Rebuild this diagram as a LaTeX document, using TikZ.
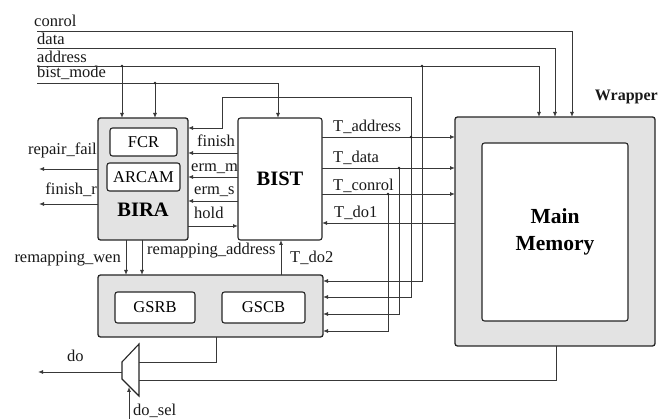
\documentclass[tikz,border=0pt]{standalone}
\usepackage{fontspec}
\setmainfont{Liberation Serif}
\usetikzlibrary{arrows.meta,calc}
\begin{document}
\begin{tikzpicture}[x=1pt,y=-1pt,
  wire/.style={draw=black!78, line width=0.9pt},
  arr/.style={wire, -{Latex[length=5pt,width=4pt]}},
  lbl/.style={font=\rmfamily\fontsize{16.5}{18}\selectfont, inner sep=0pt, text=black!90},
  bigb/.style={font=\rmfamily\bfseries\fontsize{20.5}{22}\selectfont},
  outerbox/.style={draw=black!85, line width=1.3pt, fill=black!11, rounded corners=2.5pt, inner sep=0pt, outer sep=0pt},
  innerbox/.style={draw=black!85, line width=1.1pt, fill=white, rounded corners=2.5pt, inner sep=0pt, outer sep=0pt, font=\rmfamily\fontsize{16.5}{18}\selectfont},
  jdot/.style={circle, fill=black!85, inner sep=0pt, minimum size=2.6pt}
]
\useasboundingbox[fill=white] (0,0) rectangle (670,419);

% ---------- blocks ----------
\node[outerbox, minimum width=90pt, minimum height=122pt] (bira) at (143,179) {};
\node[innerbox, minimum width=67pt, minimum height=28pt] (fcr) at (143.5,142) {FCR};
\node[innerbox, minimum width=73pt, minimum height=28pt] (arcam) at (143.5,177) {ARCAM};
\node[bigb, inner sep=0pt] (biralbl) at (143,210) {BIRA};
\node[innerbox, bigb, minimum width=84pt, minimum height=122pt] (bist) at (280,179) {BIST};

\node[outerbox, minimum width=225pt, minimum height=62pt] (gs) at (210.5,306) {};
\node[innerbox, minimum width=80pt, minimum height=31pt] (gsrb) at (155,307.5) {GSRB};
\node[innerbox, minimum width=83pt, minimum height=31pt] (gscb) at (263.5,307.5) {GSCB};

\node[outerbox, minimum width=200pt, minimum height=229pt] (wrap) at (555,231.5) {};
\node[innerbox, font=\rmfamily\bfseries\fontsize{21.5}{26.5}\selectfont, align=center, minimum width=146pt, minimum height=178pt] (mem) at (555,232) {Main\\Memory};
\node[lbl, font=\rmfamily\bfseries\fontsize{16}{18}\selectfont, anchor=base east] (wlbl) at (658,101) {Wrapper};

% mux
\coordinate (muxa) at (139,344);
\coordinate (muxb) at (139,396);
\coordinate (muxc) at (122,379);
\coordinate (muxd) at (122,362);
\draw[draw=black!85, line width=1.1pt] (muxa) -- (muxb) -- (muxc) -- (muxd) -- cycle;

% ---------- top bus ----------
\node[lbl, anchor=base west] (lconrol) at (34,27) {conrol};
\node[lbl, anchor=base west] (ldata) at (37,45) {data};
\node[lbl, anchor=base west] (laddress) at (37,63) {address};
\node[lbl, anchor=base west] (lbist) at (37,78) {bist\_mode};

\coordinate (sconrol) at (37,31);
\coordinate (sdata) at (37,48);
\coordinate (saddr) at (37,66);
\coordinate (sbist) at (37,83);

\draw[arr] (sconrol) -- (572,31) -- (572,0 |- wrap.north);
\draw[arr] (sdata) -- (555,48) -- (555,0 |- wrap.north);
\draw[arr] (saddr) -- (539,66) -- (539,0 |- wrap.north);
\draw[arr] (122,66) -- (122,0 |- bira.north);
\draw[arr] (422,66) -- (422,281) -- (gs.east |- 0,281);
\draw[arr] (sbist) -- (278,83) -- (278,0 |- bist.north);
\draw[arr] (155,83) -- (155,0 |- bira.north);

% ---------- BIST to wrapper ----------
\draw[arr] (bist.east |- 0,137) -- (wrap.west |- 0,137);
\draw[arr] (411,137) -- (411,97) -- (222,97) -- (222,128) -- (bira.east |- 0,128);
\draw[arr] (411,137) -- (411,297) -- (gs.east |- 0,297);
\draw[arr] (bist.east |- 0,168) -- (wrap.west |- 0,168);
\draw[arr] (399,168) -- (399,314) -- (gs.east |- 0,314);
\draw[arr] (bist.east |- 0,194) -- (wrap.west |- 0,194);
\draw[arr] (388,194) -- (388,331) -- (gs.east |- 0,331);
\draw[arr] (wrap.west |- 0,223) -- (bist.east |- 0,223);

\node[lbl, anchor=base west] (ltadd) at (333,132) {T\_address};
\node[lbl, anchor=base west] (ltdata) at (333,163) {T\_data};
\node[lbl, anchor=base west] (ltcon) at (333,191) {T\_conrol};
\node[lbl, anchor=base west] (ltdo1) at (334,218) {T\_do1};

% ---------- BIST <-> BIRA ----------
\draw[arr] (bist.west |- 0,153) -- (bira.east |- 0,153);
\draw[arr] (bist.west |- 0,177) -- (bira.east |- 0,177);
\draw[arr] (bist.west |- 0,201) -- (bira.east |- 0,201);
\draw[arr] (bira.east |- 0,226) -- (bist.west |- 0,226);
\node[lbl, anchor=base west] (lfinish) at (197,147) {finish};
\node[lbl, anchor=base west] (lermm) at (191,172) {erm\_m};
\node[lbl, anchor=base west] (lerms) at (194,195) {erm\_s};
\node[lbl, anchor=base west] (lhold) at (194,219) {hold};

% ---------- BIRA outputs ----------
\coordinate (orf) at (39,169);
\coordinate (ofr) at (39,204);
\draw[arr] (bira.west |- orf) -- (orf);
\draw[arr] (bira.west |- ofr) -- (ofr);
\node[lbl, anchor=base east] (lrf) at (97,155) {repair\_fail};
\node[lbl, anchor=base east] (lfr) at (97,195) {finish\_r};

% ---------- BIRA/BIST <-> GS ----------
\draw[arr] (126,0 |- bira.south) -- (126,0 |- gs.north);
\draw[arr] (142,0 |- bira.south) -- (142,0 |- gs.north);
\draw[arr] (281,0 |- gs.north) -- (281,0 |- bist.south);
\node[lbl, anchor=base east] (lrw) at (121,263) {remapping\_wen};
\node[lbl, anchor=base west] (lra) at (147,255) {remapping\_address};
\node[lbl, anchor=base west] (ltdo2) at (290,263) {T\_do2};

% ---------- mux ----------
\draw[wire] (216,0 |- gs.south) -- (216,362) -- (muxa |- 0,362);
\draw[wire] (556,0 |- wrap.south) -- (556,380) -- (muxa |- 0,380);
\coordinate (odo) at (38,372);
\draw[arr] (122,372) -- (odo);
\node[lbl, anchor=base west] (ldo) at (67,362) {do};
\coordinate (sel) at (129,419);
\draw[arr] (sel) -- (129,387);
\node[lbl, anchor=base west] (lsel) at (133,416) {do\_sel};

% junction dots
\foreach \p in {(122,66),(155,83),(422,66),(411,137),(399,168),(388,194)}
  \node[jdot] at \p {};
\end{tikzpicture}
\end{document}
